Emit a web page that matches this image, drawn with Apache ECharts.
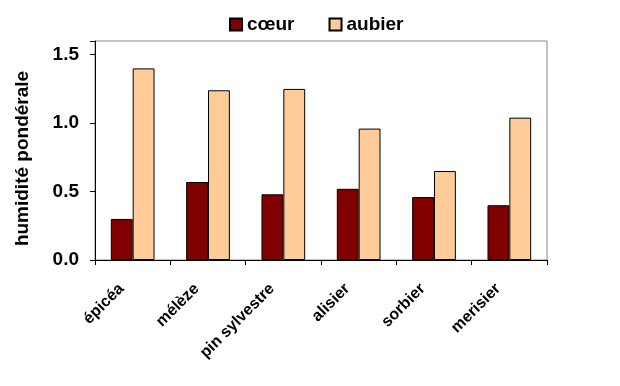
<!DOCTYPE html>
<html><head><meta charset="utf-8">
<script src="https://cdn.jsdelivr.net/npm/echarts@6/dist/echarts.min.js"></script>
<style>html,body{margin:0;padding:0;background:#fff}#c{width:620px;height:386px}</style>
</head><body><div id="c"></div>
<script>
const categories = ['épicéa', 'mélèze', 'pin sylvestre', 'alisier', 'sorbier', 'merisier'];
const coeur = [0.30, 0.57, 0.48, 0.52, 0.46, 0.40];
const aubier = [1.40, 1.24, 1.25, 0.96, 0.65, 1.04];
const seriesNames = ['cœur', 'aubier'];
const yTicks = [0, 0.5, 1.0, 1.5];

const F = '"Liberation Sans", Arial, sans-serif';
const chart = echarts.init(document.getElementById('c'), null, {renderer: 'canvas'});
chart.setOption({
  animation: false,
  backgroundColor: '#fff',
  legend: {
    top: 10, left: 224, itemGap: 34, itemWidth: 12, itemHeight: 12,
    icon: 'rect',
    textStyle: {fontFamily: F, fontWeight: 'bold', fontSize: 19, color: '#000'},
    data: seriesNames
  },
  grid: {left: 95, right: 73, top: 41, bottom: 126, show: true, borderColor: '#888', borderWidth: 1, containLabel: false},
  xAxis: {
    type: 'category', data: categories,
    axisLine: {lineStyle: {color: '#000', width: 1}},
    axisTick: {show: true, alignWithLabel: false, length: 5, lineStyle: {color: '#000'}},
    axisLabel: {rotate: 45, interval: 0, margin: 15, padding: [0, 16, 0, 0], fontFamily: F, fontWeight: 'bold', fontSize: 16, color: '#000'},
    splitLine: {show: false}
  },
  yAxis: {
    type: 'value', min: 0, max: 1.6, interval: 0.5,
    name: 'humidité pondérale', nameLocation: 'middle', nameGap: 63,
    nameTextStyle: {fontFamily: F, fontWeight: 'bold', fontSize: 19, color: '#000', padding: [0, 16, 0, 0]},
    axisLine: {show: true, lineStyle: {color: '#000', width: 1}},
    axisTick: {show: true, length: 5, lineStyle: {color: '#000'}},
    axisLabel: {fontFamily: F, fontWeight: 'bold', fontSize: 19, color: '#000', margin: 16,
      formatter: v => yTicks.includes(v) ? v.toFixed(1) : ''},
    splitLine: {show: false}
  },
  series: [
    {name: seriesNames[0], type: 'bar', data: coeur, barWidth: '29%', barGap: '0%',
     itemStyle: {color: '#800000', borderColor: '#000', borderWidth: 1}},
    {name: seriesNames[1], type: 'bar', data: aubier, barWidth: '29%', barGap: '0%',
     itemStyle: {color: '#FFCC99', borderColor: '#000', borderWidth: 1}}
  ]
});
</script></body></html>
